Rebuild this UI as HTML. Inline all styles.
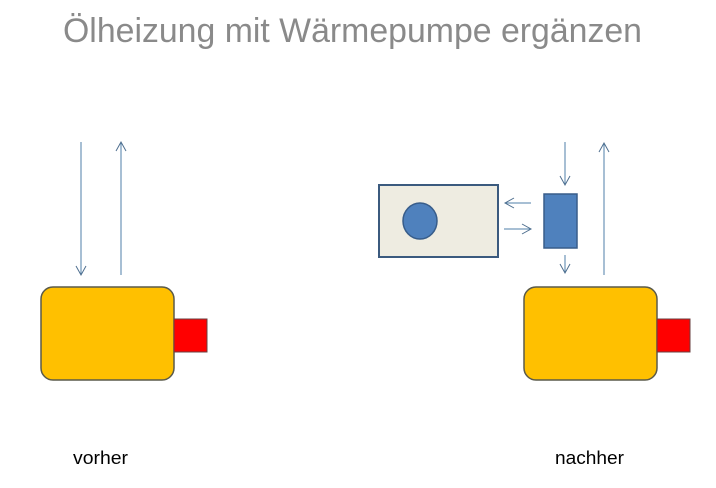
<!DOCTYPE html>
<html><head><meta charset="utf-8"><style>html,body{margin:0;padding:0;background:#fff;}svg{display:block}</style></head>
<body>
<svg width="716" height="488" viewBox="0 0 716 488" xmlns="http://www.w3.org/2000/svg">
<defs>
<marker id="a" markerWidth="12" markerHeight="12" refX="10" refY="6" orient="auto" markerUnits="userSpaceOnUse">
<path d="M1,1 L10,6 L1,11" fill="none" stroke="#4f6f8f" stroke-width="1"/>
</marker>
</defs>
<text x="63" y="42" font-family="Liberation Sans, sans-serif" font-size="34" fill="#8a8a8a" textLength="579" lengthAdjust="spacingAndGlyphs">Ölheizung mit Wärmepumpe ergänzen</text>
<g stroke="#4f7fa8" stroke-width="1" marker-end="url(#a)">
<line x1="81" y1="142" x2="81" y2="275"/>
<line x1="121" y1="275" x2="121" y2="142"/>
<line x1="565" y1="142" x2="565" y2="185"/>
<line x1="565" y1="255" x2="565" y2="273"/>
<line x1="604" y1="275" x2="604" y2="143"/>
<line x1="531" y1="203" x2="505" y2="203"/>
<line x1="504" y1="229" x2="531" y2="229"/>
</g>
<rect x="41" y="287" width="133" height="93" rx="12" fill="#ffc000" stroke="#5a5a4a" stroke-width="1.5"/>
<rect x="174" y="319" width="33" height="33" fill="#ff0000" stroke="#6a4040" stroke-width="1"/>
<rect x="524" y="287" width="133" height="93" rx="12" fill="#ffc000" stroke="#5a5a4a" stroke-width="1.5"/>
<rect x="657" y="319" width="33" height="33" fill="#ff0000" stroke="#6a4040" stroke-width="1"/>
<rect x="379" y="185" width="119" height="72" fill="#eeece1" stroke="#3b5a7e" stroke-width="2"/>
<ellipse cx="420" cy="221" rx="17" ry="18" fill="#4f81bd" stroke="#385d8a" stroke-width="1.5"/>
<rect x="544" y="194" width="33" height="54" fill="#4f81bd" stroke="#385d8a" stroke-width="1.5"/>
<text x="73" y="464" font-family="Liberation Sans, sans-serif" font-size="18" fill="#000" textLength="55" lengthAdjust="spacingAndGlyphs">vorher</text>
<text x="555" y="464" font-family="Liberation Sans, sans-serif" font-size="18" fill="#000" textLength="69" lengthAdjust="spacingAndGlyphs">nachher</text>
</svg>
</body></html>
